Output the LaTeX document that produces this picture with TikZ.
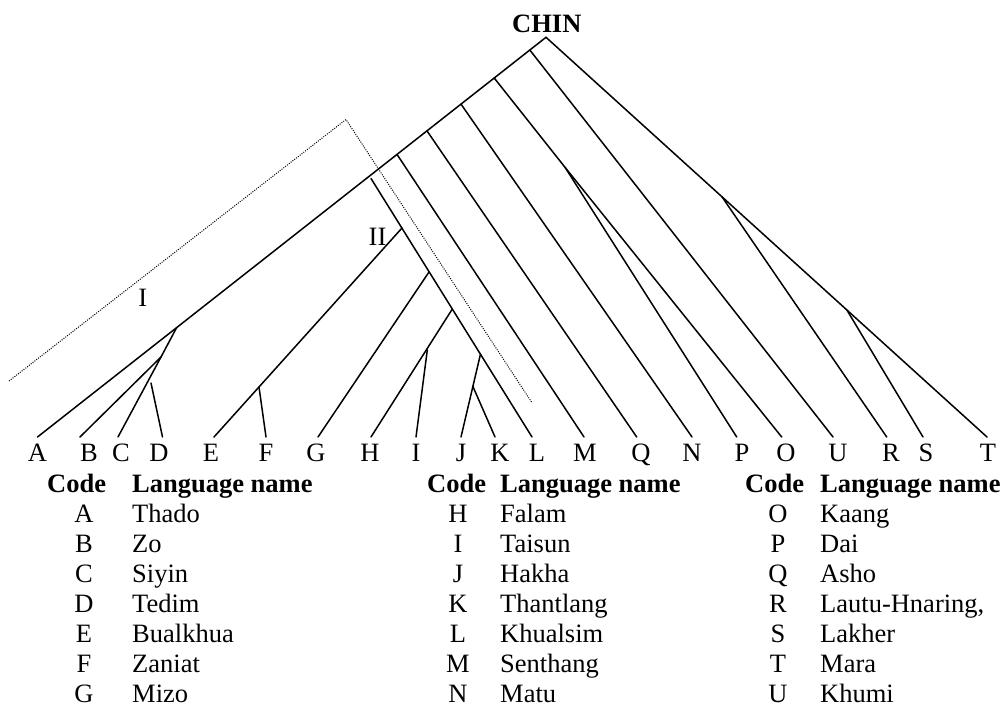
\documentclass[tikz,border=0pt]{standalone}
\usepackage{fontspec}
\setmainfont{Liberation Serif}
\begin{document}
\begin{tikzpicture}[x=1pt,y=-1pt,
  edge/.style={line width=1.5pt, line cap=round},
  group/.style={line width=1pt, dash pattern=on 1pt off 1.3pt},
  txt/.style={inner sep=0pt, font=\fontsize{26.5}{31}\selectfont},
  leafname/.style={txt, anchor=base},
  codecell/.style={txt, anchor=base},
  namecell/.style={txt, anchor=base west},
  head/.style={txt, font=\fontsize{26.5}{31}\selectfont\bfseries}]
\useasboundingbox (0,0) rectangle (1006,708);

% root and the two main arms
\node[head, anchor=base] (chin) at (546.8,32.7) {CHIN};
\coordinate (root) at (546,37.3);

% leaf ends
\coordinate (A) at (37.5,437);  \coordinate (B) at (80,437);
\coordinate (C) at (118,437);   \coordinate (D) at (162.5,437);
\coordinate (E) at (214,437);   \coordinate (F) at (266,437);
\coordinate (G) at (318,437);   \coordinate (H) at (371,437);
\coordinate (I) at (416,437);   \coordinate (J) at (461,437);
\coordinate (K) at (495,437);   \coordinate (L) at (532,437);
\coordinate (M) at (584,437);   \coordinate (Q) at (636.7,437);
\coordinate (N) at (692,437);   \coordinate (P) at (736.7,437);
\coordinate (O) at (781.7,437); \coordinate (U) at (833,437);
\coordinate (R) at (886.7,437); \coordinate (S) at (923,437);
\coordinate (T) at (987,437);

% branching points on the left arm
\coordinate (sU) at (529.8,50);
\coordinate (sPO) at (494.2,78);
\coordinate (sN) at (461,104.1);
\coordinate (sQ) at (427,130.9);
\coordinate (sM) at (397,154.4);
\coordinate (sI) at (176.6,327.7);
% branching points on the right arm
\coordinate (rR) at (721.9,196.7);
\coordinate (rS) at (846.9,310);
% inner nodes
\coordinate (po) at (565,167.3);
\coordinate (bc) at (161,357);
\coordinate (dtop) at (151,383);
\coordinate (Ltop) at (371,178.5);
\coordinate (lE) at (402,228);
\coordinate (lG) at (429,272);
\coordinate (lH) at (452,309.5);
\coordinate (lJ) at (480.5,354);
\coordinate (eF) at (259,387);
\coordinate (itop) at (427.3,350);
\coordinate (jK) at (472.7,386);

% main arms
\draw[edge, line join=miter] (A) -- (root) -- (T);
% left arm branches
\draw[edge] (sU) -- (U);
\draw[edge] (sPO) -- (po) -- (P);
\draw[edge] (po) -- (O);
\draw[edge] (sN) -- (N);
\draw[edge] (sQ) -- (Q);
\draw[edge] (sM) -- (M);
% right arm branches
\draw[edge] (rR) -- (R);
\draw[edge] (rS) -- (S);
% group I
\draw[edge] (sI) -- (bc) -- (B);
\draw[edge] (bc) -- (C);
\draw[edge] (dtop) -- (D);
% group II
\draw[edge] (Ltop) -- (L);
\draw[edge] (lE) -- (E);
\draw[edge] (eF) -- (F);
\draw[edge] (lG) -- (G);
\draw[edge] (lH) -- (H);
\draw[edge] (itop) -- (I);
\draw[edge] (lJ) -- (J);
\draw[edge] (jK) -- (K);

% dotted outline separating group I
\coordinate (d1) at (9,381);
\coordinate (d2) at (346,119.5);
\coordinate (d3) at (531.5,402);
\draw[group] (d1) -- (d2) -- (d3);
\node[leafname] (gI) at (142.7,307) {I};
\node[leafname] (gII) at (377.5,246) {II};

% leaf labels
\foreach \n/\x in {A/37.5,B/89,C/121,D/159,E/211,F/266,G/316,H/370,I/416,J/461,K/500,L/537,M/585,Q/641,N/692,P/742,O/786,U/838,R/891,S/926,T/988}
  \node[leafname] (lab\n) at (\x,461.5) {\n};

% legend
\foreach \nx/\hx in {132/47, 500/427, 820/745}{
  \node[head, anchor=base west] at (\hx,492) {Code};
  \node[head, anchor=base west] at (\nx,492) {Language name};
}
\foreach \c/\nm [count=\i] in {A/Thado,B/Zo,C/Siyin,D/Tedim,E/Bualkhua,F/Zaniat,G/Mizo}{
  \node[codecell] (c\c) at (84,492+30*\i) {\c};
  \node[namecell] (n\c) at (132,492+30*\i) {\nm};
}
\foreach \c/\nm [count=\i] in {H/Falam,I/Taisun,J/Hakha,K/Thantlang,L/Khualsim,M/Senthang,N/Matu}{
  \node[codecell] (c\c) at (458,492+30*\i) {\c};
  \node[namecell] (n\c) at (500,492+30*\i) {\nm};
}
\foreach \c/\nm [count=\i] in {O/Kaang,P/Dai,Q/Asho,R/Lautu-Hnaring{,},S/Lakher,T/Mara,U/Khumi}{
  \node[codecell] (c\c) at (778,492+30*\i) {\c};
  \node[namecell] (n\c) at (820,492+30*\i) {\nm};
}
\end{tikzpicture}
\end{document}
